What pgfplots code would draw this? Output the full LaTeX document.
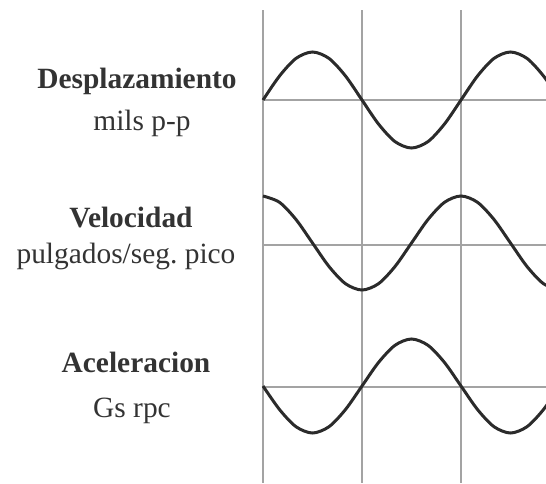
\documentclass[border=0pt]{standalone}
\usepackage{fontspec}
\setmainfont{Liberation Serif}
\usepackage{pgfplots}
\pgfplotsset{compat=1.18}
\definecolor{gridgray}{HTML}{A3A3A3}
\definecolor{curve}{HTML}{2B2B2B}
\definecolor{txt}{HTML}{333333}
\begin{document}
\frenchspacing
\begin{tikzpicture}
\begin{axis}[
  scale only axis, width=273pt, height=241.5pt,
  xmin=0, xmax=546, ymin=0, ymax=483, y dir=reverse,
  axis line style={draw=none}, ticks=none, clip=true,
]
% vertical lines
\addplot[gridgray, line width=1.1pt] coordinates {(263,10) (263,483)};
\addplot[gridgray, line width=1.1pt] coordinates {(362,10) (362,483)};
\addplot[gridgray, line width=1.1pt] coordinates {(461,10) (461,483)};
% horizontal lines
\addplot[gridgray, line width=1.1pt] coordinates {(263,100) (546,100)};
\addplot[gridgray, line width=1.1pt] coordinates {(263,245) (546,245)};
\addplot[gridgray, line width=1.1pt] coordinates {(263,387) (546,387)};
% displacement
\addplot[curve, line width=1.5pt, smooth] coordinates {
(263,100) (279.5,76) (296,58.4) (312.5,52) (329,58.4) (345.5,76) (362,100)
(378.5,124) (395,141.6) (411.5,148) (428,141.6) (444.5,124) (461,100)
(477.5,76) (494,58.4) (510.5,52) (527,58.4) (543.5,76) (560,100)};
% velocity
\addplot[curve, line width=1.5pt, smooth] coordinates {
(263,196) (279.5,202.3) (296,219.5) (312.5,243) (329,266.5) (345.5,283.7) (362,290)
(378.5,283.7) (395,266.5) (411.5,243) (428,219.5) (444.5,202.3) (461,196)
(477.5,202.3) (494,219.5) (510.5,243) (527,266.5) (543.5,283.7) (560,290)};
% acceleration
\addplot[curve, line width=1.5pt, smooth] coordinates {
(263,386) (279.5,409.5) (296,426.7) (312.5,433) (329,426.7) (345.5,409.5) (362,386)
(378.5,362.5) (395,345.3) (411.5,339) (428,345.3) (444.5,362.5) (461,386)
(477.5,409.5) (494,426.7) (510.5,433) (527,426.7) (543.5,409.5) (560,386)};
% labels
\node[anchor=base, text=txt, font=\fontsize{14.7}{18}\selectfont\bfseries] at (axis cs:137,88) {Desplazamiento};
\node[anchor=base, text=txt, font=\fontsize{14.7}{18}\selectfont] at (axis cs:142,130) {mils p-p};
\node[anchor=base, text=txt, font=\fontsize{14.7}{18}\selectfont\bfseries] at (axis cs:131,227) {Velocidad};
\node[anchor=base, text=txt, font=\fontsize{14.7}{18}\selectfont] at (axis cs:126,263) {pulgados/seg.\ pico};
\node[anchor=base, text=txt, font=\fontsize{14.7}{18}\selectfont\bfseries] at (axis cs:136,372) {Aceleracion};
\node[anchor=base, text=txt, font=\fontsize{14.7}{18}\selectfont] at (axis cs:132,417) {Gs rpc};
\end{axis}
\end{tikzpicture}
\end{document}
